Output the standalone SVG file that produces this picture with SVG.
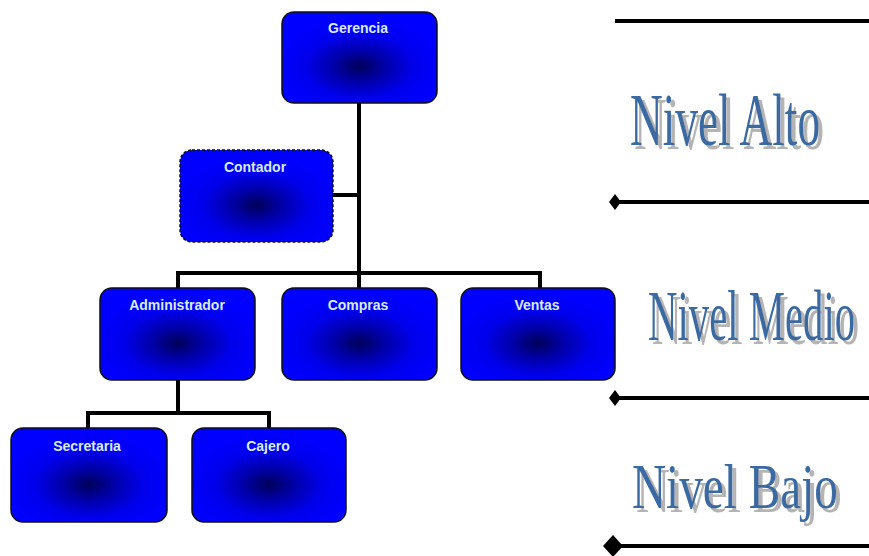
<svg xmlns="http://www.w3.org/2000/svg" width="869" height="556" viewBox="0 0 869 556">
<defs>
<radialGradient id="g" cx="0.5" cy="0.6" r="0.55">
<stop offset="0" stop-color="#00005a"/>
<stop offset="0.3" stop-color="#0000a8"/>
<stop offset="0.65" stop-color="#0000ee"/>
<stop offset="1" stop-color="#0000ff"/>
</radialGradient>
<filter id="shadow" filterUnits="userSpaceOnUse" x="-2000" y="-2000" width="4000" height="4000">
<feOffset in="SourceAlpha" dx="4" dy="4" result="off"/>
<feGaussianBlur in="off" stdDeviation="0.6" result="bl"/>
<feFlood flood-color="#b4b4b4"/>
<feComposite in2="bl" operator="in" result="sh"/>
<feMerge><feMergeNode in="sh"/><feMergeNode in="SourceGraphic"/></feMerge>
</filter>
<marker id="ds" viewBox="0 0 12 16" refX="6" refY="8" markerWidth="12" markerHeight="16" markerUnits="userSpaceOnUse" orient="auto">
<path d="M0,8 L6,0 L12,8 L6,16 Z" fill="#000"/>
</marker>
<marker id="dl" viewBox="0 0 20 22" refX="10" refY="11" markerWidth="20" markerHeight="22" markerUnits="userSpaceOnUse" orient="auto">
<path d="M0,11 L10,0 L20,11 L10,22 Z" fill="#000"/>
</marker>
</defs>
<style>
.box{fill:url(#g);stroke:#111;stroke-width:1.5}
.dash{stroke-dasharray:3 2}
.lbl{font-family:"Liberation Sans",Arial,sans-serif;font-weight:bold;font-size:14px;fill:#d8ecff;text-anchor:middle}
.con{stroke:#000;stroke-width:4;fill:none}
.lvl{stroke:#000;stroke-width:4;fill:none}
.niv{font-family:"Liberation Serif","Times New Roman",serif;fill:#3a6aa2}
</style>
<rect width="869" height="556" fill="#ffffff"/>
<g id="connectors">
<path class="con" d="M359,103 V288"/>
<path class="con" d="M333,195 H359"/>
<path class="con" d="M178,288 V273 H540 V288"/>
<path class="con" d="M178,380 V413"/>
<path class="con" d="M88,428 V413 H269 V428"/>
</g>
<g id="gerencia"><rect class="box" x="282" y="12" width="155" height="91" rx="12"/><text class="lbl" x="358" y="33">Gerencia</text></g>
<g id="contador"><rect class="box dash" x="180" y="150" width="153" height="92" rx="12"/><text class="lbl" x="255" y="172">Contador</text></g>
<g id="administrador"><rect class="box" x="100" y="288" width="155" height="92" rx="12"/><text class="lbl" x="177" y="310">Administrador</text></g>
<g id="compras"><rect class="box" x="282" y="288" width="155" height="92" rx="12"/><text class="lbl" x="358" y="310">Compras</text></g>
<g id="ventas"><rect class="box" x="461" y="288" width="154" height="92" rx="12"/><text class="lbl" x="537" y="310">Ventas</text></g>
<g id="secretaria"><rect class="box" x="11" y="428" width="156" height="94" rx="12"/><text class="lbl" x="87" y="451">Secretaria</text></g>
<g id="cajero"><rect class="box" x="192" y="428" width="154" height="94" rx="12"/><text class="lbl" x="268" y="451">Cajero</text></g>
<g id="niveles">
<path class="lvl" d="M615,21 H869" stroke-width="5"/>
<path class="lvl" d="M615,202 H875" marker-start="url(#ds)"/>
<path class="lvl" d="M615,398 H875" marker-start="url(#ds)"/>
<path class="lvl" d="M613,546 H875" marker-start="url(#dl)"/>
</g>
<g id="nivel-alto" filter="url(#shadow)">
<text class="niv" transform="translate(630,145) scale(0.596,1)" x="0" y="0" font-size="75" textLength="319" lengthAdjust="spacingAndGlyphs">Nivel Alto</text>
</g>
<g id="nivel-medio" filter="url(#shadow)">
<text class="niv" transform="translate(648,340) scale(0.566,1)" x="0" y="0" font-size="72" textLength="366" lengthAdjust="spacingAndGlyphs">Nivel Medio</text>
</g>
<g id="nivel-bajo" filter="url(#shadow)">
<text class="niv" transform="translate(632,508) scale(0.738,1)" x="0" y="0" font-size="64" textLength="279" lengthAdjust="spacingAndGlyphs">Nivel Bajo</text>
</g>
</svg>
